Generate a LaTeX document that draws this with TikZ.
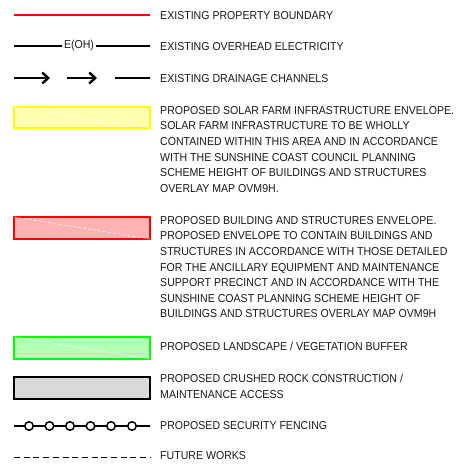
\documentclass[tikz,border=0pt]{standalone}
\usepackage{fontspec}
\setmainfont[FakeStretch=0.92]{Liberation Sans}
\usetikzlibrary{positioning,arrows.meta}

\begin{document}
\begin{tikzpicture}[
  x=1pt, y=1pt, >={Straight Barb[length=6pt,width=11pt]},
  lbl/.style={anchor=west, inner sep=0pt, text=black!90, font=\fontsize{11.5}{15.6}\selectfont},
  para/.style={lbl, anchor=north west, align=left},
  envelope/.style={line width=2pt},
  diag/.style={white, line width=0.5pt, dash pattern=on 3pt off 2pt},
  fencepost/.style={circle, draw, fill=white, line width=1.5pt, minimum size=8.5pt, inner sep=0pt},
]
  \useasboundingbox (0,0) rectangle (461,-464);

  % property boundary
  \coordinate (pb1) at (14,-15);
  \coordinate (pb2) at (150,-15);
  \draw[red, line width=2pt] (pb1) -- (pb2);
  \node[lbl] (tpb) at (160,-16) {EXISTING PROPERTY BOUNDARY};

  % overhead electricity
  \coordinate (oh1) at (14,-46);
  \coordinate (oh2) at (150,-46);
  \node[lbl, anchor=center, inner sep=2pt] (eoh) at (79,-46) {E(OH)};
  \draw[line width=1.8pt] (oh1) -- (eoh) -- (oh2);
  \node[lbl] (toh) at (160,-46.5) {EXISTING OVERHEAD ELECTRICITY};

  % drainage
  \coordinate (dr1) at (14,-78);
  \coordinate (dr2) at (50,-78);
  \coordinate (dr3) at (67,-78);
  \coordinate (dr4) at (97,-78);
  \coordinate (dr5) at (115,-78);
  \coordinate (dr6) at (150,-78);
  \draw[->, line width=2.4pt] (dr1) -- (dr2);
  \draw[->, line width=2.4pt] (dr3) -- (dr4);
  \draw[line width=2.4pt] (dr5) -- (dr6);
  \node[lbl] (tdr) at (160,-78.5) {EXISTING DRAINAGE CHANNELS};

  % solar farm envelope
  \draw[envelope, draw={rgb,255:red,255;green,255;blue,0}, fill={rgb,255:red,255;green,255;blue,176}]
    (14,-107) rectangle (150,-128);
  \draw[diag] (14,-107) -- (150,-128);
  \node[para] (tsol) at (160,-106)
    {PROPOSED SOLAR FARM INFRASTRUCTURE ENVELOPE.\\
     SOLAR FARM INFRASTRUCTURE TO BE WHOLLY\\
     CONTAINED WITHIN THIS AREA AND IN ACCORDANCE\\
     WITH THE SUNSHINE COAST COUNCIL PLANNING\\
     SCHEME HEIGHT OF BUILDINGS AND STRUCTURES\\
     OVERLAY MAP OVM9H.};

  % building envelope
  \draw[envelope, draw=red, fill={rgb,255:red,255;green,179;blue,179}]
    (14,-217) rectangle (150,-239);
  \draw[diag] (14,-217) -- (150,-239);
  \node[para] (tbld) at (160,-216)
    {PROPOSED BUILDING AND STRUCTURES ENVELOPE.\\
     PROPOSED ENVELOPE TO CONTAIN BUILDINGS AND\\
     STRUCTURES IN ACCORDANCE WITH THOSE DETAILED\\
     FOR THE ANCILLARY EQUIPMENT AND MAINTENANCE\\
     SUPPORT PRECINCT AND IN ACCORDANCE WITH THE\\
     SUNSHINE COAST PLANNING SCHEME HEIGHT OF\\
     BUILDINGS AND STRUCTURES OVERLAY MAP OVM9H};

  % landscape buffer
  \draw[envelope, draw={rgb,255:red,0;green,255;blue,0}, fill={rgb,255:red,179;green,255;blue,179}]
    (14,-337) rectangle (150,-359);
  \draw[diag] (14,-337) -- (150,-359);
  \node[lbl] (tlnd) at (160,-346) {PROPOSED LANDSCAPE / VEGETATION BUFFER};

  % crushed rock access
  \draw[line width=1.8pt, fill={rgb,255:red,217;green,217;blue,217}]
    (14,-377) rectangle (150,-399);
  \node[para] (trock) at (160,-374)
    {PROPOSED CRUSHED ROCK CONSTRUCTION /\\
     MAINTENANCE ACCESS};

  % security fencing
  \coordinate (sf1) at (14,-426);
  \coordinate (sf2) at (150,-426);
  \draw[line width=1.6pt] (sf1) -- (sf2);
  \foreach \i/\x in {1/29,2/49.5,3/70,4/90.5,5/111,6/132}
    \node[fencepost] (post\i) at (\x,-426) {};
  \node[lbl] (tfen) at (160,-426) {PROPOSED SECURITY FENCING};

  % future works
  \coordinate (fw1) at (14,-457);
  \coordinate (fw2) at (150,-457);
  \draw[line width=1pt, dash pattern=on 6pt off 3.7pt] (fw1) -- (fw2);
  \node[lbl] (tfut) at (160,-456) {FUTURE WORKS};
\end{tikzpicture}
\end{document}
